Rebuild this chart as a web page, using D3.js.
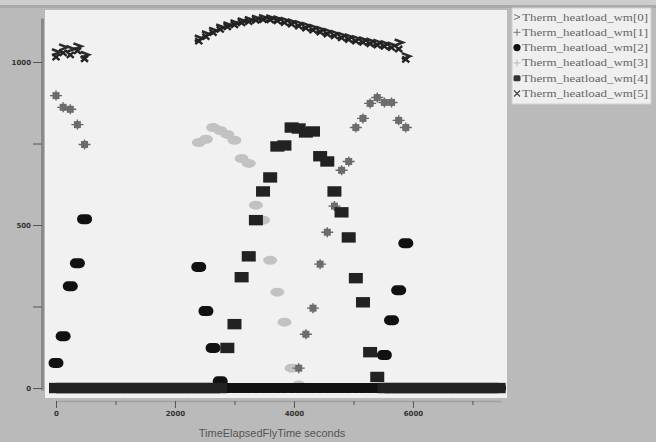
<!DOCTYPE html>
<html>
<head>
<meta charset="utf-8">
<script src="https://cdn.jsdelivr.net/npm/d3@7"></script>
<style>
  html, body { margin: 0; padding: 0; background: #bababa; }
  svg { display: block; }
</style>
</head>
<body>
<svg id="chart" width="656" height="442"></svg>
<script>
// Sample times (s), one sample every two minutes
const times = [0,120,240,360,480,600,720,840,960,1080,1200,1320,1440,1560,1680,1800,1920,2040,2160,2280,
  2400,2520,2640,2760,2880,3000,3120,3240,3360,3480,3600,3720,3840,3960,4080,4200,4320,4440,4560,4680,
  4800,4920,5040,5160,5280,5400,5520,5640,5760,5880,6000,6120,6240,6360,6480,6600,6720,6840,6960,7080,
  7200,7320,7440];

const seriesNames = ["Therm_heatload_wm[0]","Therm_heatload_wm[1]","Therm_heatload_wm[2]",
  "Therm_heatload_wm[3]","Therm_heatload_wm[4]","Therm_heatload_wm[5]"];

// Heat load per window (W/m^2)
const wm0 = [1030,1045,1040,1048,1022, 0,0,0,0,0,0,0,0,0,0,0,0,0,0,0,
  1072,1085,1096,1106,1113,1119,1125,1129,1133,1135,1134,1131,1127,1122,1117,1111,1105,1099,1093,1087,
  1081,1076,1071,1067,1063,1059,1055,1051,1060,1018, 0,0,0,0,0,0,0,0,0,0,0,0,0];
const wm1 = [897,861,855,808,747, 0,0,0,0,0,0,0,0,0,0,0,0,0,0,0,0,0,0,0,0,0,0,0,0,0,0,0,0,0,
  61,165,245,380,478,558,668,695,799,827,873,891,876,876,821,799, 0,0,0,0,0,0,0,0,0,0,0,0,0];
const wm2 = [77,159,312,383,518, 0,0,0,0,0,0,0,0,0,0,0,0,0,0,0,
  371,236,123,21, 0,0,0,0,0,0,0,0,0,0,0,0,0,0,0,0,0,0,0,0,0,0,
  101,208,300,444, 0,0,0,0,0,0,0,0,0,0,0,0,0];
const wm3 = [0,0,0,0,0,0,0,0,0,0,0,0,0,0,0,0,0,0,0,0,
  753,763,799,790,778,760,704,689,561,515,392,294,202,61,9,
  0,0,0,0,0,0,0,0,0,0,0,0,0,0,0,0,0,0,0,0,0,0,0,0,0,0,0,0];
const wm4 = [0,0,0,0,0,0,0,0,0,0,0,0,0,0,0,0,0,0,0,0,0,0,0,0,
  123,196,340,404,515,603,646,741,744,799,796,784,787,711,695,603,539,462,337,263,110,34,
  0,0,0,0,0,0,0,0,0,0,0,0,0,0,0,0,0];
const wm5 = [1015,1028,1022,1034,1010, 0,0,0,0,0,0,0,0,0,0,0,0,0,0,0,
  1064,1078,1090,1100,1108,1114,1120,1124,1128,1130,1129,1126,1121,1116,1110,1104,1098,1092,1086,1080,
  1074,1069,1064,1060,1056,1052,1048,1044,1040,1008, 0,0,0,0,0,0,0,0,0,0,0,0,0];

const seriesValues = [wm0, wm1, wm2, wm3, wm4, wm5];

const xTicks = [0,1000,2000,3000,4000,5000,6000,7000];
const xTickLabels = ["0","","2000","","4000","","6000",""];
const yTicks = [0,250,500,750,1000];
const yTickLabels = ["0","","500","","1000"];

const svg = d3.select("#chart");

// frame: light strip along the top, plot panel
svg.append("rect").attr("x",0).attr("y",0).attr("width",656).attr("height",5).attr("fill","#cdcdcd");
svg.append("rect").attr("x",0).attr("y",5).attr("width",656).attr("height",3).attr("fill","#a9a9a9");
svg.append("rect").attr("x",45).attr("y",10).attr("width",462).attr("height",388).attr("fill","#f1f1f1");

const x = d3.scaleLinear().domain([0, 7480]).range([56, 501]);
const y = d3.scaleLinear().domain([-6, 1135]).range([390, 18]);

// axes
const yAxis = d3.axisLeft(y).tickValues(yTicks).tickSize(9).tickSizeOuter(0)
  .tickFormat((d,i) => yTickLabels[i]);
const gy = svg.append("g").attr("transform","translate(42,0)").call(yAxis);
gy.select(".domain").attr("stroke","#8a8a8a").attr("stroke-width",3);
gy.selectAll(".tick line").attr("stroke","#555");
gy.selectAll(".tick text").attr("font-family","DejaVu Sans").attr("font-size",7)
  .attr("font-weight","bold").attr("fill","#333").attr("x",-11);

const xAxis = d3.axisBottom(x).tickValues(xTicks).tickSizeOuter(0)
  .tickFormat((d,i) => xTickLabels[i]);
const gx = svg.append("g").attr("transform","translate(0,401)").call(xAxis);
gx.select(".domain").attr("stroke","#a0a0a0").attr("stroke-width",1.5);
gx.selectAll(".tick line").attr("stroke","#555").attr("y2",(d,i)=> i%2===0 ? 7 : 4);
gx.selectAll(".tick text").attr("font-family","DejaVu Sans").attr("font-size",7)
  .attr("font-weight","bold").attr("fill","#333").attr("y",10);

svg.append("text").attr("x",272).attr("y",437).attr("text-anchor","middle")
  .attr("font-family","Liberation Sans").attr("font-size",11).attr("fill","#555")
  .text("TimeElapsedFlyTime seconds");

// marker painters, one per series
const markers = [
  // [0] chevron
  (g) => g.append("path").attr("d","M-4,-3 L4,0 L-4,3").attr("fill","none")
          .attr("stroke","#2a2a2a").attr("stroke-width",2.6),
  // [1] plus with a small square centre
  (g) => { g.append("path").attr("d","M-6,0 H6 M0,-5 V5").attr("stroke","#666").attr("stroke-width",1.4);
           g.append("rect").attr("x",-3.5).attr("y",-3.5).attr("width",7).attr("height",7).attr("fill","#6c6c6c"); },
  // [2] filled circle (rounded blob)
  (g) => g.append("rect").attr("x",-7.5).attr("y",-5).attr("width",15).attr("height",10)
          .attr("rx",5).attr("ry",5).attr("fill","#111"),
  // [3] light plus
  (g) => g.append("ellipse").attr("rx",7).attr("ry",4.5).attr("fill","#c2c2c2"),
  // [4] filled square
  (g) => g.append("rect").attr("x",-7).attr("y",-5.2).attr("width",14).attr("height",10.4).attr("fill","#222"),
  // [5] cross
  (g) => g.append("path").attr("d","M-3.5,-3 L3.5,3 M-3.5,3 L3.5,-3").attr("stroke","#222").attr("stroke-width",2.4)
];

const plot = svg.append("g");
// draw order: lighter series first so the dark ones sit on top
[3,1,0,5,2,4].forEach(s => {
  const pts = times.map((t,i) => ({t, v: seriesValues[s][i]})).filter(d => d.v !== null);
  plot.append("g").selectAll("g").data(pts).join("g")
    .attr("transform", d => `translate(${x(d.t)},${y(d.v)})`)
    .each(function(){ markers[s](d3.select(this)); });
});

// legend
const lg = svg.append("g").attr("transform","translate(512,8)");
lg.append("rect").attr("width",139).attr("height",96).attr("fill","#efefef").attr("stroke","#d0d0d0");
const legendMarkers = [
  (g) => g.append("path").attr("d","M-3,-2.5 L3,0 L-3,2.5").attr("fill","none").attr("stroke","#777").attr("stroke-width",1),
  (g) => g.append("path").attr("d","M-3.5,0 H3.5 M0,-3.5 V3.5").attr("stroke","#777").attr("stroke-width",1),
  (g) => g.append("circle").attr("r",3.6).attr("fill","#111"),
  (g) => g.append("path").attr("d","M-3.5,0 H3.5 M0,-3.5 V3.5").attr("stroke","#bbb").attr("stroke-width",1),
  (g) => g.append("rect").attr("x",-3.5).attr("y",-3).attr("width",7).attr("height",6).attr("rx",1.5).attr("fill","#333"),
  (g) => g.append("path").attr("d","M-3,-3 L3,3 M-3,3 L3,-3").attr("stroke","#444").attr("stroke-width",1.2)
];
seriesNames.forEach((name,i) => {
  const row = lg.append("g").attr("transform",`translate(0,${9 + i*15.3})`);
  legendMarkers[i](row.append("g").attr("transform","translate(5,0)"));
  row.append("text").attr("x",10).attr("y",3.5).attr("font-family","Liberation Serif")
    .attr("font-size",10).attr("fill","#666")
    .attr("textLength",126).attr("lengthAdjust","spacingAndGlyphs").text(name);
});
</script>
</body>
</html>
